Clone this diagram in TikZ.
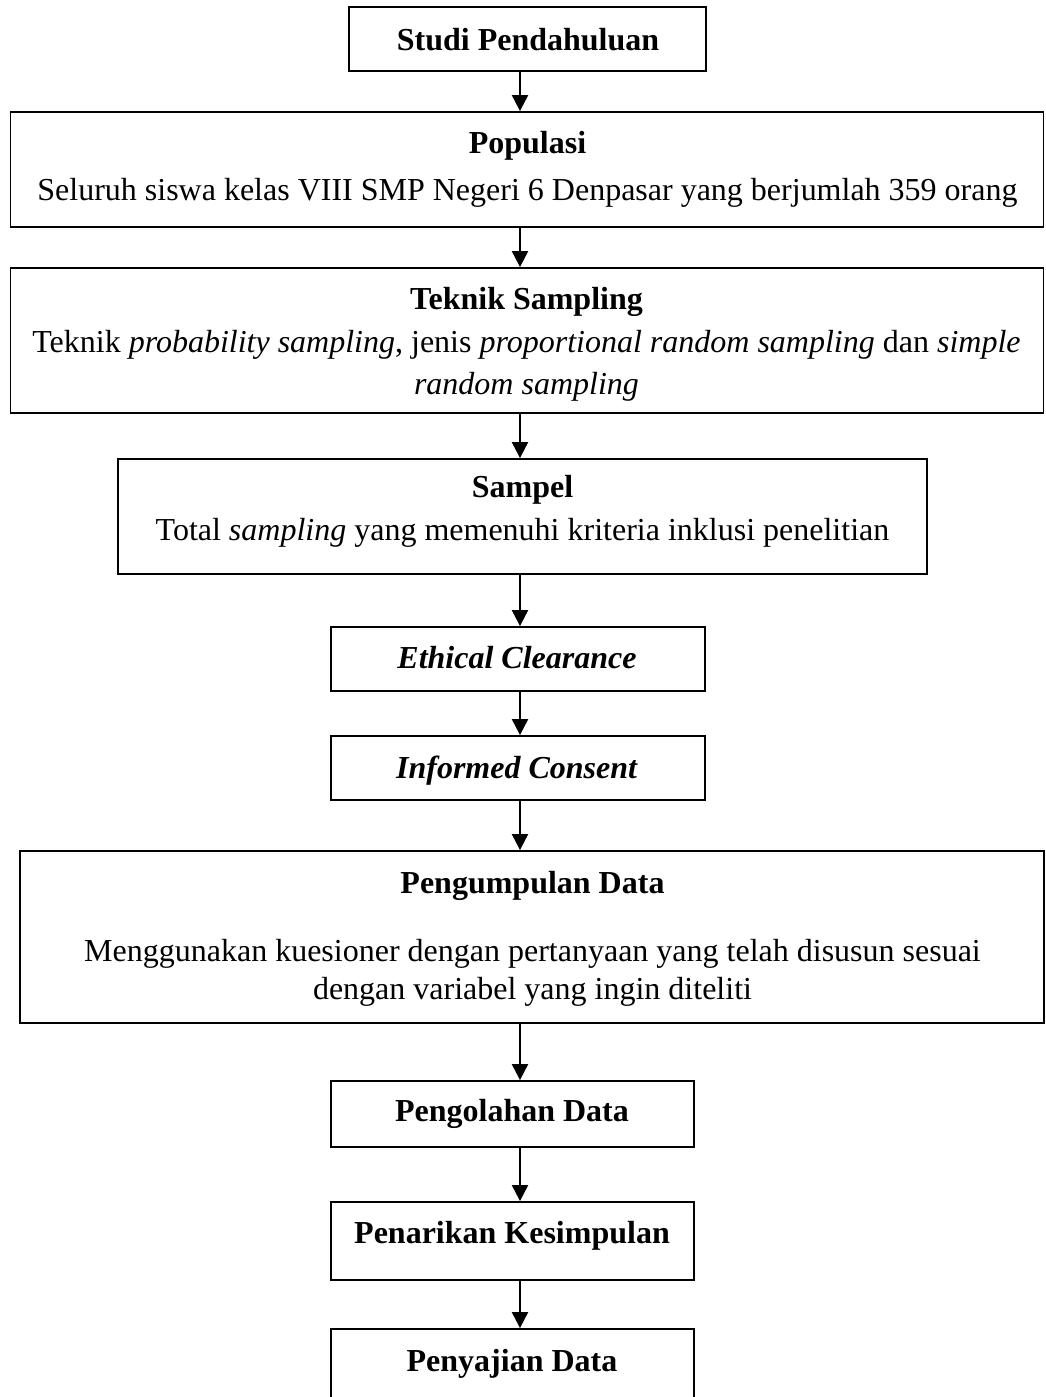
\documentclass[tikz,border=0pt]{standalone}
\usepackage{fontspec}
\setmainfont{Liberation Serif}
\usetikzlibrary{arrows.meta}
\tikzset{
  flowbox/.style={draw=black, line width=1.8pt, rectangle, inner sep=0pt, fill=white},
  flowtext/.style={align=center, inner sep=0pt, font=\fontsize{32}{40}\selectfont},
  onetext/.style={flowtext, text height=22pt, text depth=7pt},
  flowarrow/.style={line width=2pt, -{Triangle[width=16pt,length=16pt]}}
}
\begin{document}
\begin{tikzpicture}[x=1pt,y=-1pt]
\useasboundingbox (0,0) rectangle (1045,1397);
\clip (0,0) rectangle (1045,1397);
\coordinate (ax) at (520,0);
% boxes
\node[flowbox, minimum width=357pt, minimum height=64pt] (studi) at (527.5,39) {};
\node[flowbox, minimum width=1033pt, minimum height=115pt] (pop) at (527,169.5) {};
\node[flowbox, minimum width=1033pt, minimum height=145pt] (teknik) at (527,340.5) {};
\node[flowbox, minimum width=809pt, minimum height=115pt] (sampel) at (522.5,516.5) {};
\node[flowbox, minimum width=374pt, minimum height=64pt] (ethical) at (518,659) {};
\node[flowbox, minimum width=374pt, minimum height=64pt] (informed) at (518,768) {};
\node[flowbox, minimum width=1024pt, minimum height=172pt] (kumpul) at (532,937) {};
\node[flowbox, minimum width=363pt, minimum height=66pt] (olah) at (512.5,1114) {};
\node[flowbox, minimum width=363pt, minimum height=78pt] (tarik) at (512.5,1241) {};
\node[flowbox, minimum width=363pt, minimum height=76pt] (saji) at (512.5,1367) {};
% texts
\node[onetext] (studi-t) at (528,43.5) {\textbf{Studi Pendahuluan}};
\node[flowtext] (pop-t) at (527.5,169.5)
  {\textbf{Populasi}\\[7pt]Seluruh siswa kelas VIII SMP Negeri 6 Denpasar yang berjumlah 359 orang};
\node[flowtext] (teknik-t) at (526.5,344.5)
  {\textbf{Teknik Sampling}\\[3pt]Teknik \textit{probability sampling}, jenis \textit{proportional random sampling} dan \textit{simple}\\[2pt]\textit{random sampling}};
\node[flowtext] (sampel-t) at (522.5,511.5)
  {\textbf{Sampel}\\[3pt]Total \textit{sampling} yang memenuhi kriteria inklusi penelitian};
\node[onetext] (ethical-t) at (517,660.5) {\textbf{\textit{Ethical Clearance}}};
\node[onetext] (informed-t) at (517,770.5) {\textbf{\textit{Informed Consent}}};
\node[flowtext] (kumpul-t) at (532.5,939)
  {\textbf{Pengumpulan Data}\\[28pt]Menggunakan kuesioner dengan pertanyaan yang telah disusun sesuai\\[-2pt]dengan variabel yang ingin diteliti};
\node[onetext] (olah-t) at (512,1113.5) {\textbf{Pengolahan Data}};
\node[onetext] (tarik-t) at (512,1235.5) {\textbf{Penarikan Kesimpulan}};
\node[onetext] (saji-t) at (512,1363.5) {\textbf{Penyajian Data}};
% arrows
\draw[flowarrow] (studi.south -| ax) -- (pop.north -| ax);
\draw[flowarrow] (pop.south -| ax) -- (teknik.north -| ax);
\draw[flowarrow] (teknik.south -| ax) -- (sampel.north -| ax);
\draw[flowarrow] (sampel.south -| ax) -- (ethical.north -| ax);
\draw[flowarrow] (ethical.south -| ax) -- (informed.north -| ax);
\draw[flowarrow] (informed.south -| ax) -- (kumpul.north -| ax);
\draw[flowarrow] (kumpul.south -| ax) -- (olah.north -| ax);
\draw[flowarrow] (olah.south -| ax) -- (tarik.north -| ax);
\draw[flowarrow] (tarik.south -| ax) -- (saji.north -| ax);
\end{tikzpicture}
\end{document}
